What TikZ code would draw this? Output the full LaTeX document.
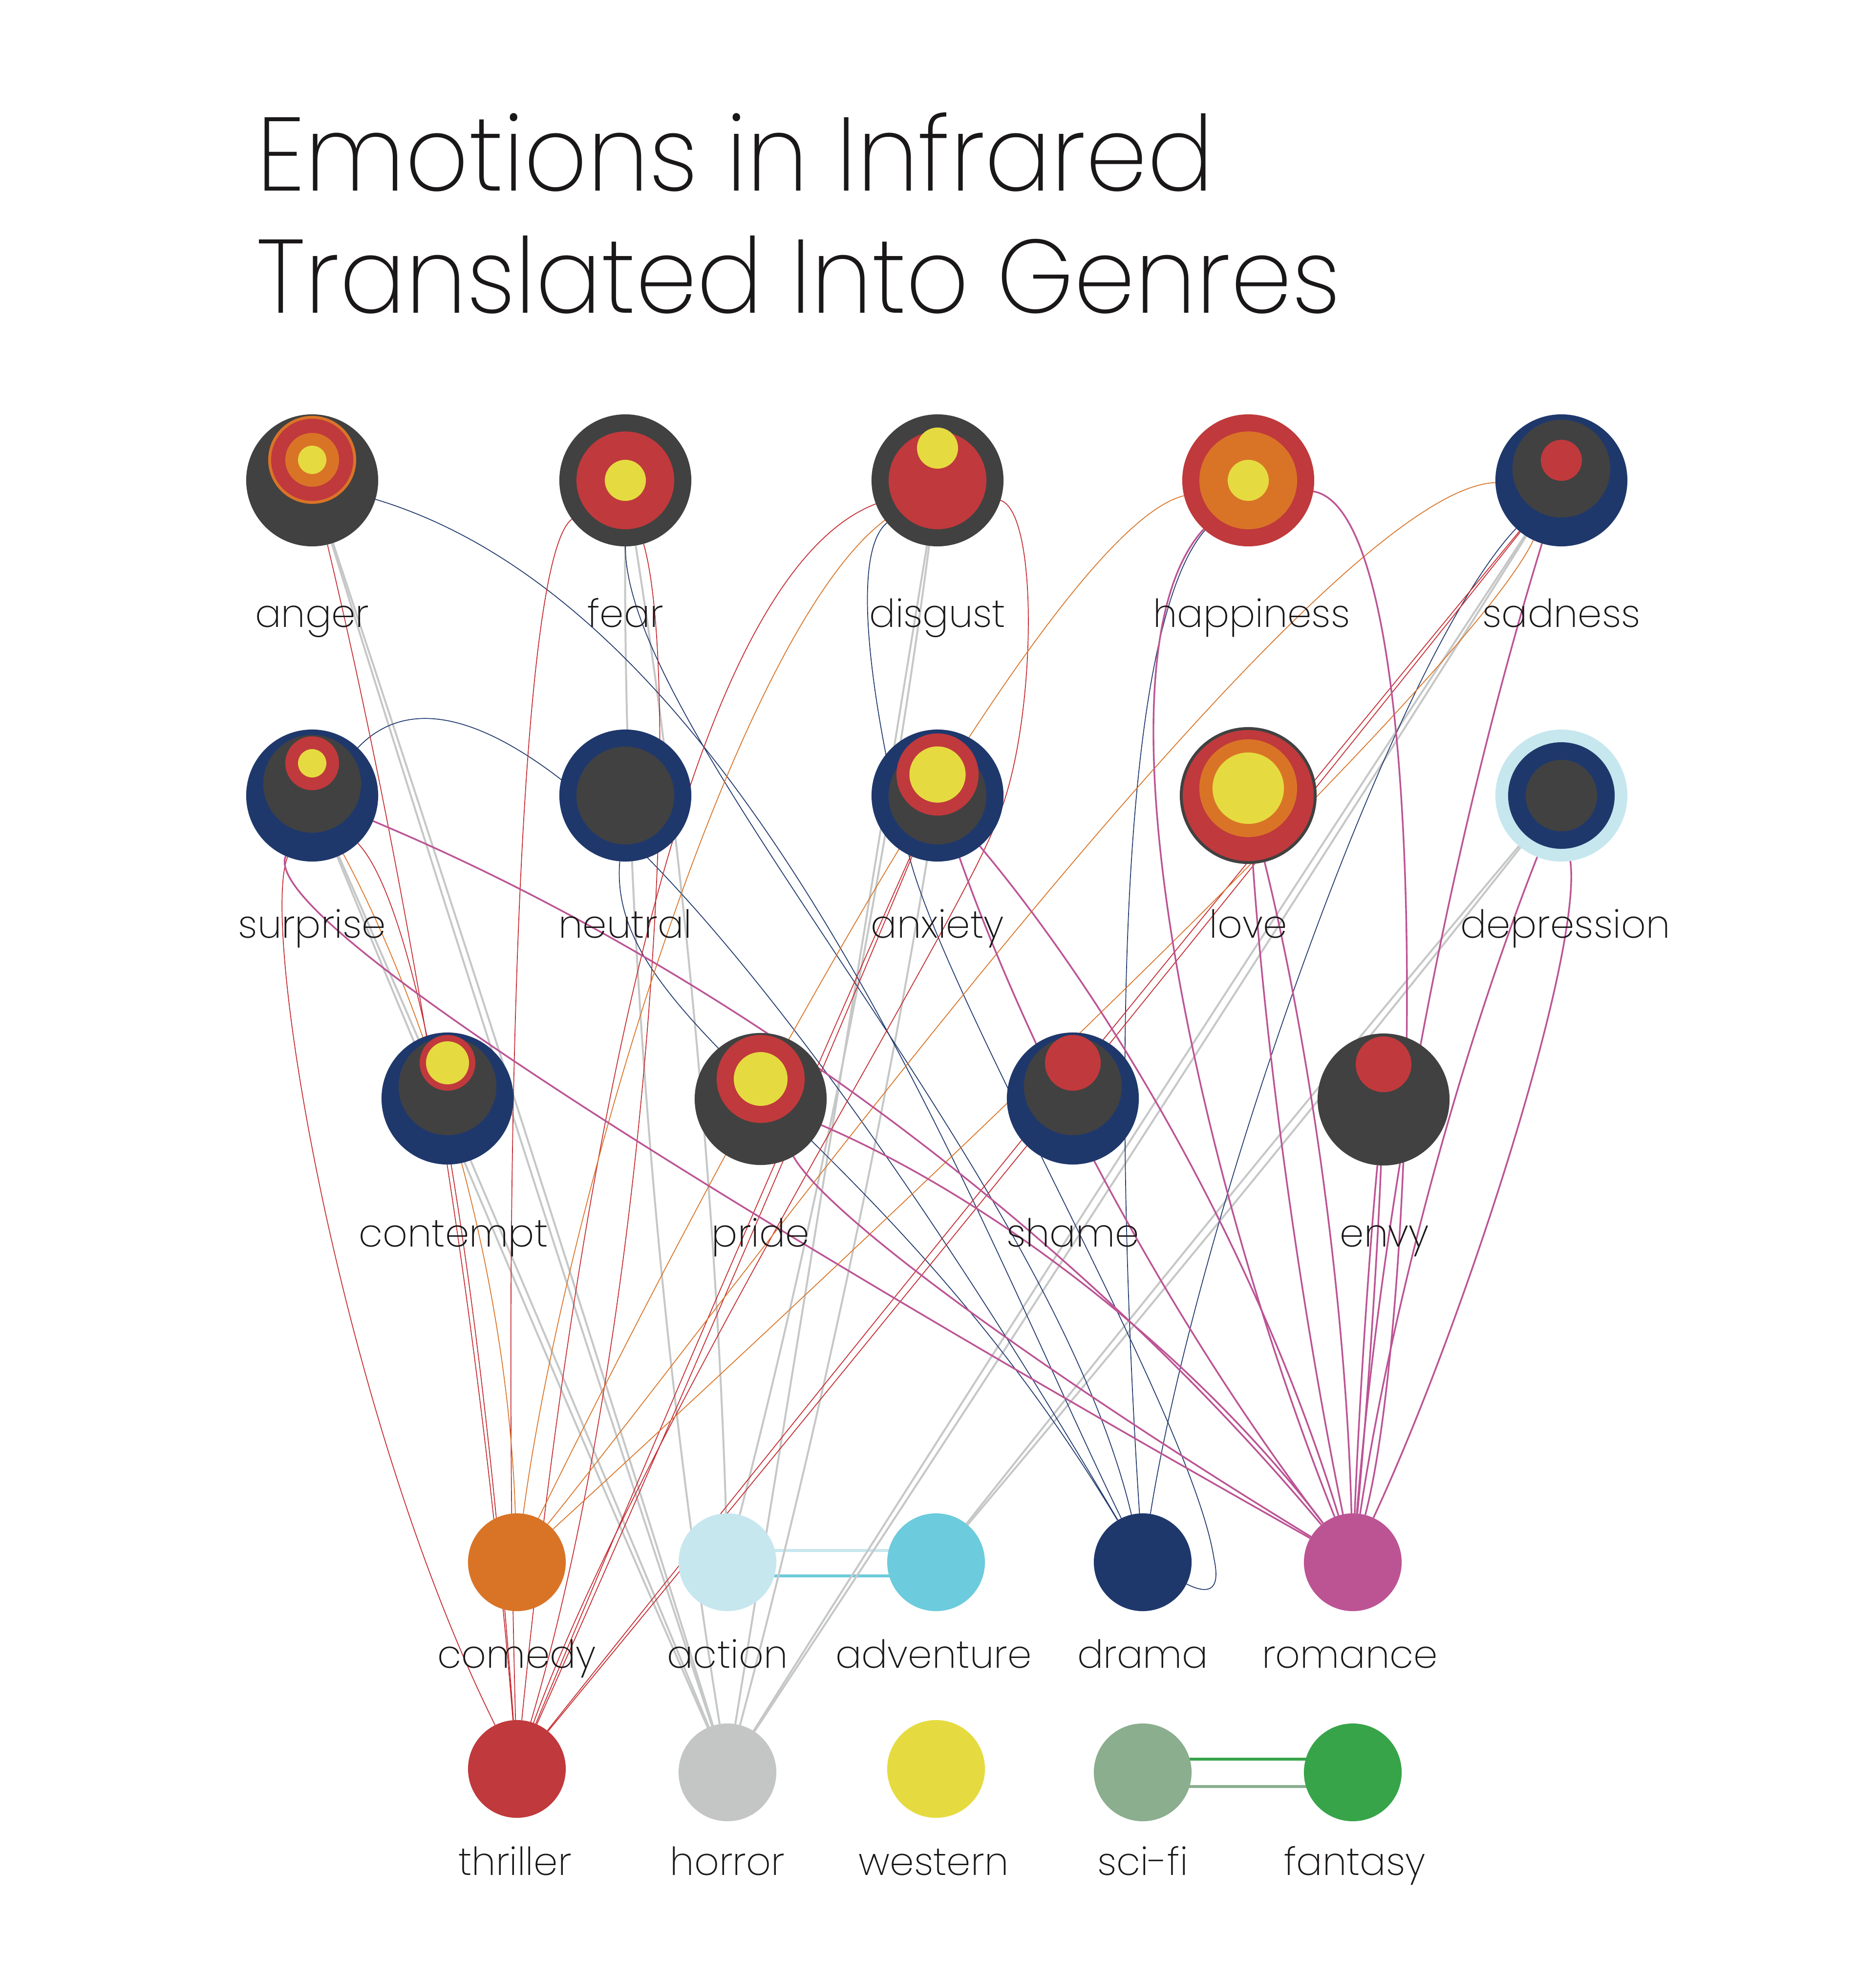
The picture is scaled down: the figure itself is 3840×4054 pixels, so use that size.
\documentclass[tikz,border=0pt]{standalone}
\usepackage{fontspec}
\usepackage{graphicx}
\newfontfamily\lightfont{Poppins ExtraLight}
\usetikzlibrary{calc}
\pgfdeclarelayer{bg}
\pgfdeclarelayer{edges}
\pgfsetlayers{bg,edges,main}
\definecolor{cgrey}{HTML}{414141}
\definecolor{cred}{HTML}{C0393C}
\definecolor{credline}{HTML}{C42A30}
\definecolor{corange}{HTML}{D97427}
\definecolor{cyellow}{HTML}{E5DB40}
\definecolor{cnavy}{HTML}{1F386C}
\definecolor{clblue}{HTML}{C7E7EF}
\definecolor{ccyan}{HTML}{6CCBDC}
\definecolor{cpink}{HTML}{BC5494}
\definecolor{chorror}{HTML}{C3C6C5}
\definecolor{csage}{HTML}{8BAE8E}
\definecolor{cgreen}{HTML}{37A449}
\definecolor{cline}{HTML}{C6C8C7}
\definecolor{labc}{HTML}{1A1718}
\tikzset{
  emo/.style={circle, minimum size=2.7cm, inner sep=0pt, outer sep=0pt},
  gen/.style={circle, minimum size=2cm, inner sep=0pt, outer sep=0pt},
  lab/.style={font=\lightfont\fontsize{22.5pt}{27pt}\selectfont, text=labc, inner sep=0pt, anchor=base},
  nv/.style={draw=cnavy, line width=0.17mm},
  rd/.style={draw=credline, line width=0.17mm},
  og/.style={draw=corange, line width=0.17mm},
  pk/.style={draw=cpink, line width=0.34mm},
  gy/.style={draw=cline, line width=0.4mm},
}
\newcommand\qedge[4]{%
  \coordinate (qc) at ($2*(#4)-0.5*(#2)-0.5*(#3)$);
  \draw[#1] (#2) .. controls ($(#2)!2/3!(qc)$) and ($(#3)!2/3!(qc)$) .. (#3);}
\begin{document}
\begin{tikzpicture}[x=0.01cm,y=-0.01cm]
\begin{pgfonlayer}{bg}
\fill[white] (0,0) rectangle (3840,4054);
\end{pgfonlayer}
\useasboundingbox (0,0) rectangle (3840,4054);

% title
\node[anchor=base west, inner sep=0pt, text=labc] (title1) at (525,390) {\resizebox{19.58cm}{1.6cm}{\lightfont Emotions in Infrared}};
\node[anchor=base west, inner sep=0pt, text=labc] (title2) at (525,640) {\resizebox{22.16cm}{1.58cm}{\lightfont Translated Into Genres}};

% emotions row 1
\node[emo, fill=cgrey] (anger) at (639,983) {};
\fill[corange] (639,941) circle[radius=0.9cm];
\fill[cred] (639,941) circle[radius=0.84cm];
\fill[corange] (639,941) circle[radius=0.55cm];
\fill[cyellow] (639,941) circle[radius=0.29cm];
\node[emo, fill=cgrey] (fear) at (1280,983) {};
\fill[cred] (1280,983) circle[radius=1cm];
\fill[cyellow] (1280,983) circle[radius=0.42cm];
\node[emo, fill=cgrey] (disgust) at (1919,983) {};
\fill[cred] (1919,983) circle[radius=1cm];
\fill[cyellow] (1919,917) circle[radius=0.42cm];
\node[emo, fill=cred] (happiness) at (2555,983) {};
\fill[corange] (2555,983) circle[radius=1cm];
\fill[cyellow] (2555,983) circle[radius=0.42cm];
\node[emo, fill=cnavy] (sadness) at (3196,983) {};
\fill[cgrey] (3196,959) circle[radius=1cm];
\fill[cred] (3196,942) circle[radius=0.42cm];

% emotions row 2
\node[emo, fill=cnavy] (surprise) at (639,1628) {};
\fill[cgrey] (639,1604) circle[radius=1cm];
\fill[cred] (639,1562) circle[radius=0.55cm];
\fill[cyellow] (639,1562) circle[radius=0.29cm];
\node[emo, fill=cnavy] (neutral) at (1280,1628) {};
\fill[cgrey] (1280,1628) circle[radius=1cm];
\node[emo, fill=cnavy] (anxiety) at (1919,1628) {};
\fill[cgrey] (1919,1628) circle[radius=1cm];
\fill[cred] (1919,1585) circle[radius=0.84cm];
\fill[cyellow] (1919,1585) circle[radius=0.575cm];
\node[emo, minimum size=2.74cm, fill=cred, draw=cgrey, line width=0.06cm] (love) at (2555,1628) {};
\fill[corange] (2555,1613) circle[radius=1cm];
\fill[cyellow] (2555,1613) circle[radius=0.73cm];
\node[emo, fill=clblue] (depression) at (3196,1628) {};
\fill[cnavy] (3196,1628) circle[radius=1.09cm];
\fill[cgrey] (3196,1628) circle[radius=0.73cm];

% emotions row 3
\node[emo, fill=cnavy] (contempt) at (916,2248) {};
\fill[cgrey] (916,2223) circle[radius=1cm];
\fill[cred] (916,2175) circle[radius=0.57cm];
\fill[cyellow] (916,2175) circle[radius=0.44cm];
\node[emo, fill=cgrey] (pride) at (1557,2249) {};
\fill[cred] (1557,2208) circle[radius=0.9cm];
\fill[cyellow] (1557,2208) circle[radius=0.55cm];
\node[emo, fill=cnavy] (shame) at (2196,2248) {};
\fill[cgrey] (2196,2223) circle[radius=1cm];
\fill[cred] (2196,2175) circle[radius=0.57cm];
\node[emo, fill=cgrey] (envy) at (2832,2250) {};
\fill[cred] (2832,2178) circle[radius=0.57cm];

% genres
\node[gen, fill=corange] (comedy) at (1058,3197) {};
\node[gen, fill=clblue] (action) at (1489,3197) {};
\node[gen, fill=ccyan] (adventure) at (1916,3197) {};
\node[gen, fill=cnavy] (drama) at (2339,3197) {};
\node[gen, fill=cpink] (romance) at (2769,3197) {};
\node[gen, fill=cred] (thriller) at (1058,3620) {};
\node[gen, fill=chorror] (horror) at (1489,3627) {};
\node[gen, fill=cyellow] (western) at (1916,3620) {};
\node[gen, fill=csage] (scifi) at (2339,3627) {};
\node[gen, fill=cgreen] (fantasy) at (2769,3627) {};

% labels
\node[lab] (l-anger) at (639,1283) {anger};
\node[lab] (l-fear) at (1280,1283) {fear};
\node[lab] (l-disgust) at (1919,1283) {disgust};
\node[lab] (l-happiness) at (2562,1283) {happiness};
\node[lab] (l-sadness) at (3196,1283) {sadness};
\node[lab] (l-surprise) at (639,1919) {surprise};
\node[lab] (l-neutral) at (1280,1919) {neutral};
\node[lab] (l-anxiety) at (1919,1919) {anxiety};
\node[lab] (l-love) at (2555,1919) {love};
\node[lab] (l-depression) at (3204,1919) {depression};
\node[lab] (l-contempt) at (928,2551) {contempt};
\node[lab] (l-pride) at (1557,2551) {pride};
\node[lab] (l-shame) at (2196,2551) {shame};
\node[lab] (l-envy) at (2834,2551) {envy};
\node[lab] (l-comedy) at (1058,3413) {comedy};
\node[lab] (l-action) at (1489,3413) {action};
\node[lab] (l-adventure) at (1911,3413) {adventure};
\node[lab] (l-drama) at (2339,3413) {drama};
\node[lab] (l-romance) at (2763,3413) {romance};
\node[lab] (l-thriller) at (1054,3837) {thriller};
\node[lab] (l-horror) at (1489,3837) {horror};
\node[lab] (l-western) at (1911,3837) {western};
\node[lab] (l-scifi) at (2339,3837) {sci-fi};
\node[lab] (l-fantasy) at (2773,3837) {fantasy};

\begin{pgfonlayer}{edges}
% double bars
\draw[clblue, line width=0.06cm] ($(action)+(0,-24)$) -- ($(adventure)+(0,-24)$);
\draw[ccyan, line width=0.06cm] ($(action)+(0,28)$) -- ($(adventure)+(0,28)$);
\draw[cgreen, line width=0.065cm] ($(scifi)+(0,-27)$) -- ($(fantasy)+(0,-27)$);
\draw[csage, line width=0.065cm] ($(scifi)+(0,29)$) -- ($(fantasy)+(0,29)$);

% grey
\qedge{gy}{anger}{horror}{1057,2305}
\qedge{gy}{anger}{horror}{1071,2305}
\qedge{gy}{surprise}{horror}{1057,2628}
\qedge{gy}{surprise}{horror}{1071,2628}
\qedge{gy}{fear}{horror}{1330,2305}
\qedge{gy}{fear}{action}{1420,2090}
\qedge{gy}{disgust}{horror}{1704,2305}
\qedge{gy}{disgust}{action}{1740,2090}
\qedge{gy}{anxiety}{horror}{1730,2627}
\qedge{gy}{sadness}{horror}{2336,2300}
\qedge{gy}{sadness}{horror}{2349,2310}
\qedge{gy}{depression}{adventure}{2550,2408}
\qedge{gy}{depression}{adventure}{2563,2417}

% navy
\draw[nv] (anger) .. controls (1539,1253) and (1987,2477) .. (drama);
\draw[nv] (fear) .. controls (1280,1500) and (2150,2400) .. (drama);
\draw[nv] (surprise) .. controls (1000,1250) and (1620,1980) .. (drama);
\draw[nv] (neutral) .. controls (1240,2100) and (1800,2300) .. (drama);
\draw[nv] (disgust) .. controls (1720,1150) and (1820,1600) .. (1862,1756) .. controls (1946,2068) and (2440,2900) .. (2485,3190) .. controls (2500,3260) and (2470,3262) .. (drama);
\draw[nv] (happiness) .. controls (2280,1300) and (2280,2300) .. (drama);
\draw[nv] (sadness) .. controls (2850,1350) and (2450,2500) .. (drama);

% red
\draw[rd] (surprise) .. controls (530,1900) and (700,2900) .. (thriller);
\qedge{rd}{anger}{thriller}{900,2300}
\draw[rd] (surprise) .. controls (880,1880) and (1000,2800) .. (thriller);
\draw[rd] (fear) .. controls (1050,1150) and (1030,2600) .. (thriller);
\draw[rd] (fear) .. controls (1400,1400) and (1330,2700) .. (thriller);
\draw[rd] (disgust) .. controls (1350,1200) and (1150,2700) .. (thriller);
\draw[rd] (disgust) .. controls (2130,1050) and (2120,1500) .. (2040,1680) .. controls (1970,1880) and (1300,2950) .. (thriller);
\qedge{rd}{anxiety}{thriller}{1483,2620}
\qedge{rd}{anxiety}{thriller}{1494,2628}
\qedge{rd}{sadness}{thriller}{2121,2297}
\qedge{rd}{sadness}{thriller}{2133,2306}

% orange
\draw[og] (disgust) .. controls (1500,1300) and (1150,2500) .. (comedy);
\qedge{og}{surprise}{comedy}{940,2388}
\draw[og] (happiness) .. controls (2150,1080) and (1450,2400) .. (comedy);
\draw[og] (sadness) .. controls (2700,1000) and (1500,2650) .. (comedy);
\draw[og] (sadness) .. controls (3000,1400) and (1600,2700) .. (comedy);

% pink
\qedge{pk}{surprise}{romance}{1799,2283}
\draw[pk] (surprise) .. controls (520,1900) and (1800,2650) .. (romance);
\qedge{pk}{pride}{romance}{2225,2643}
\draw[pk] (pride) .. controls (1700,2500) and (2200,2850) .. (romance);
\qedge{pk}{anxiety}{romance}{2423,2369}
\qedge{pk}{anxiety}{romance}{2282,2445}
\draw[pk] (happiness) .. controls (2220,1350) and (2450,2400) .. (romance);
\draw[pk] (happiness) .. controls (2950,1050) and (2900,2700) .. (romance);
\qedge{pk}{love}{romance}{2635,2412}
\qedge{pk}{love}{romance}{2705,2412}
\qedge{pk}{sadness}{romance}{2922,2080}
\qedge{pk}{depression}{romance}{2935,2412}
\draw[pk] (depression) .. controls (3240,1950) and (3000,2700) .. (romance);
\qedge{pk}{envy}{romance}{2794,2724}
\qedge{pk}{envy}{romance}{2807,2724}
\end{pgfonlayer}
\end{tikzpicture}
\end{document}
